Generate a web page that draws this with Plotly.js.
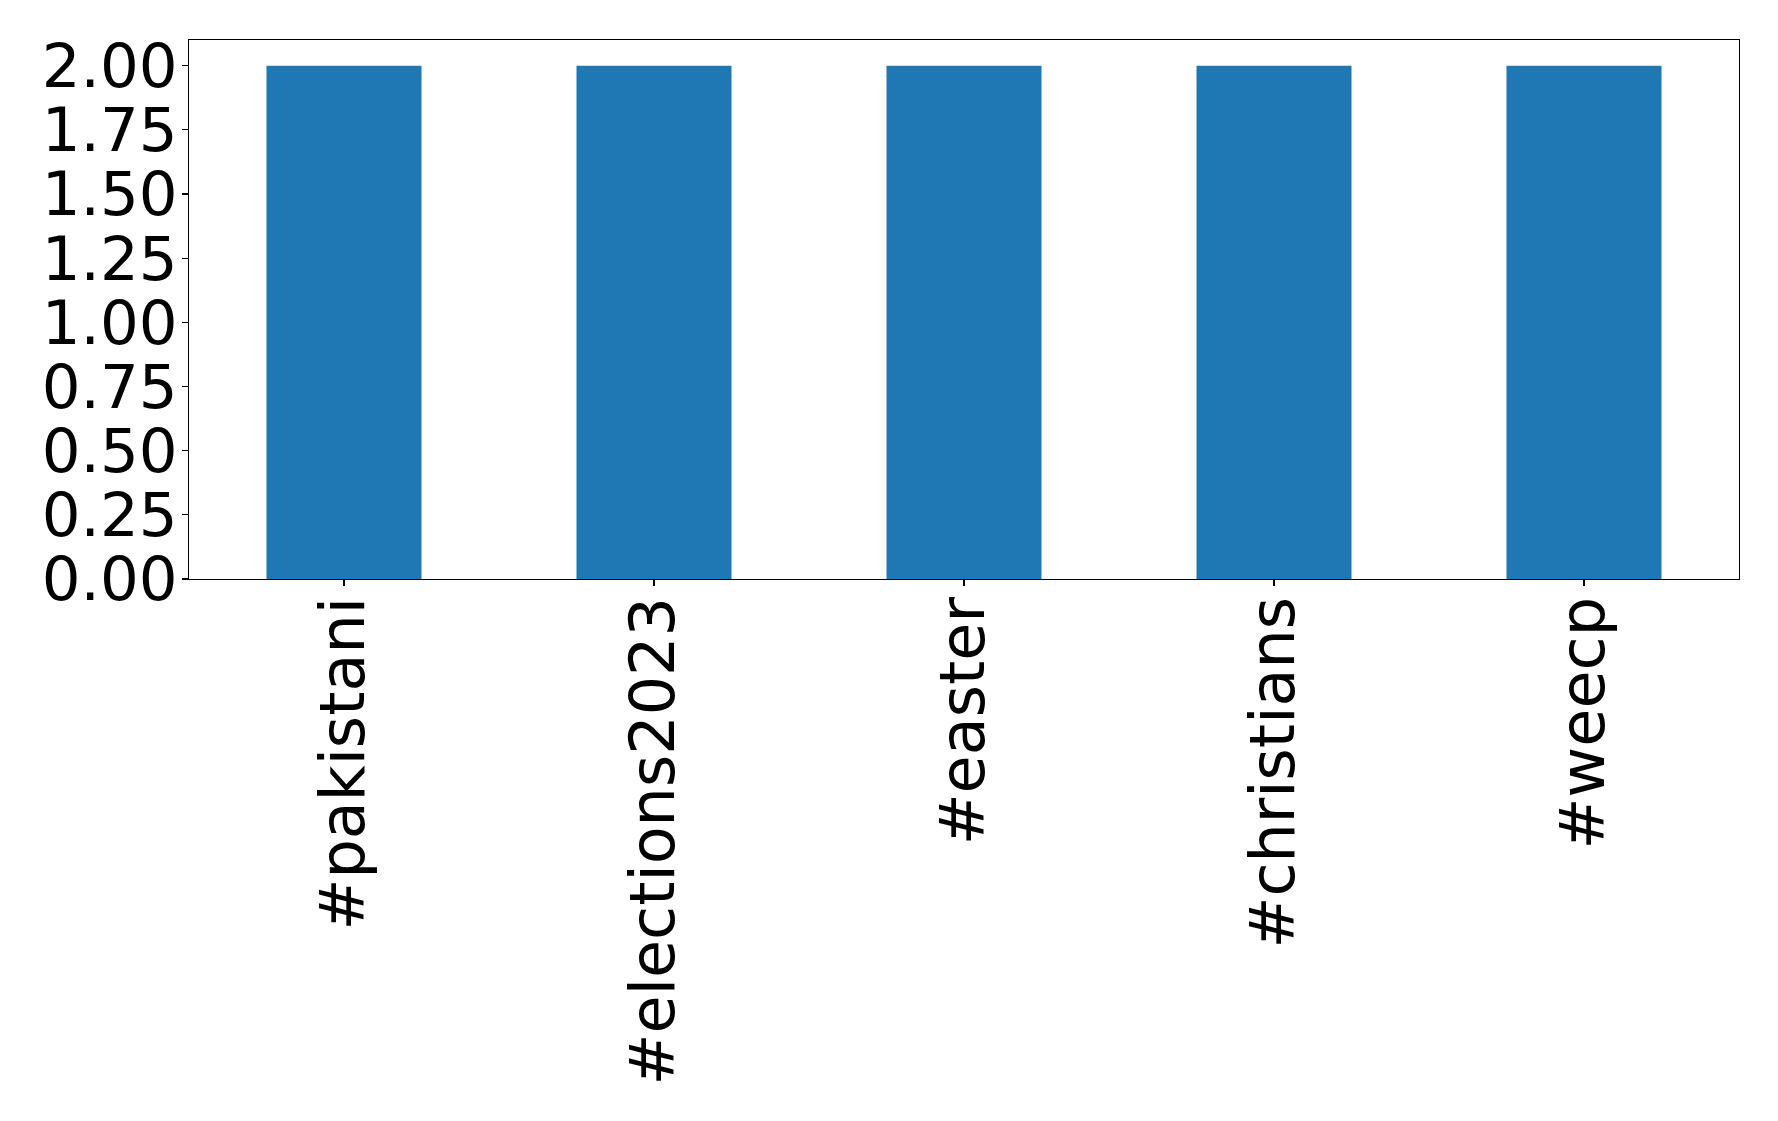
<!DOCTYPE html>
<html>
<head>
<meta charset="utf-8">
<script src="https://cdn.plot.ly/plotly-3.0.1.min.js"></script>
<style>html,body{margin:0;padding:0;background:#fff;}#chart{width:1778px;height:1121px;}</style>
</head>
<body>
<div id="chart"></div>
<script>
const categories = ["#pakistani", "#elections2023", "#easter", "#christians", "#weecp"];
const counts = [2, 2, 2, 2, 2];
const yTickVals = [0, 0.25, 0.5, 0.75, 1.0, 1.25, 1.5, 1.75, 2.0];
const yTickText = ["0.00", "0.25", "0.50", "0.75", "1.00", "1.25", "1.50", "1.75", "2.00"];

const yFont = {family: "DejaVu Sans, sans-serif", size: 61, color: "#000"};
const xFont = {family: "DejaVu Sans, sans-serif", size: 62, color: "#000"};
Plotly.newPlot("chart", [{
  type: "bar",
  x: categories,
  y: counts,
  width: 0.5,
  marker: {color: "#1f77b4", line: {width: 0}},
  hoverinfo: "none"
}], {
  width: 1778, height: 1121,
  margin: {l: 189, r: 39, t: 40, b: 542, pad: 0},
  paper_bgcolor: "#fff", plot_bgcolor: "#fff",
  showlegend: false,
  font: yFont,
  xaxis: {
    type: "category", range: [-0.5, 4.5],
    showgrid: false, zeroline: false,
    showline: true, mirror: true, linecolor: "#000", linewidth: 1.2,
    ticks: "outside", ticklen: 6, tickwidth: 1.2, tickcolor: "#000",
    tickangle: -90, tickfont: xFont, ticklabelstandoff: -14
  },
  yaxis: {
    range: [0, 2.1],
    tickvals: yTickVals, ticktext: yTickText,
    showgrid: false, zeroline: false,
    showline: true, mirror: true, linecolor: "#000", linewidth: 1.2,
    ticks: "outside", ticklen: 6, tickwidth: 1.2, tickcolor: "#000",
    tickfont: yFont, ticklabelstandoff: -8
  }
}, {staticPlot: true, displayModeBar: false});
</script>
</body>
</html>
